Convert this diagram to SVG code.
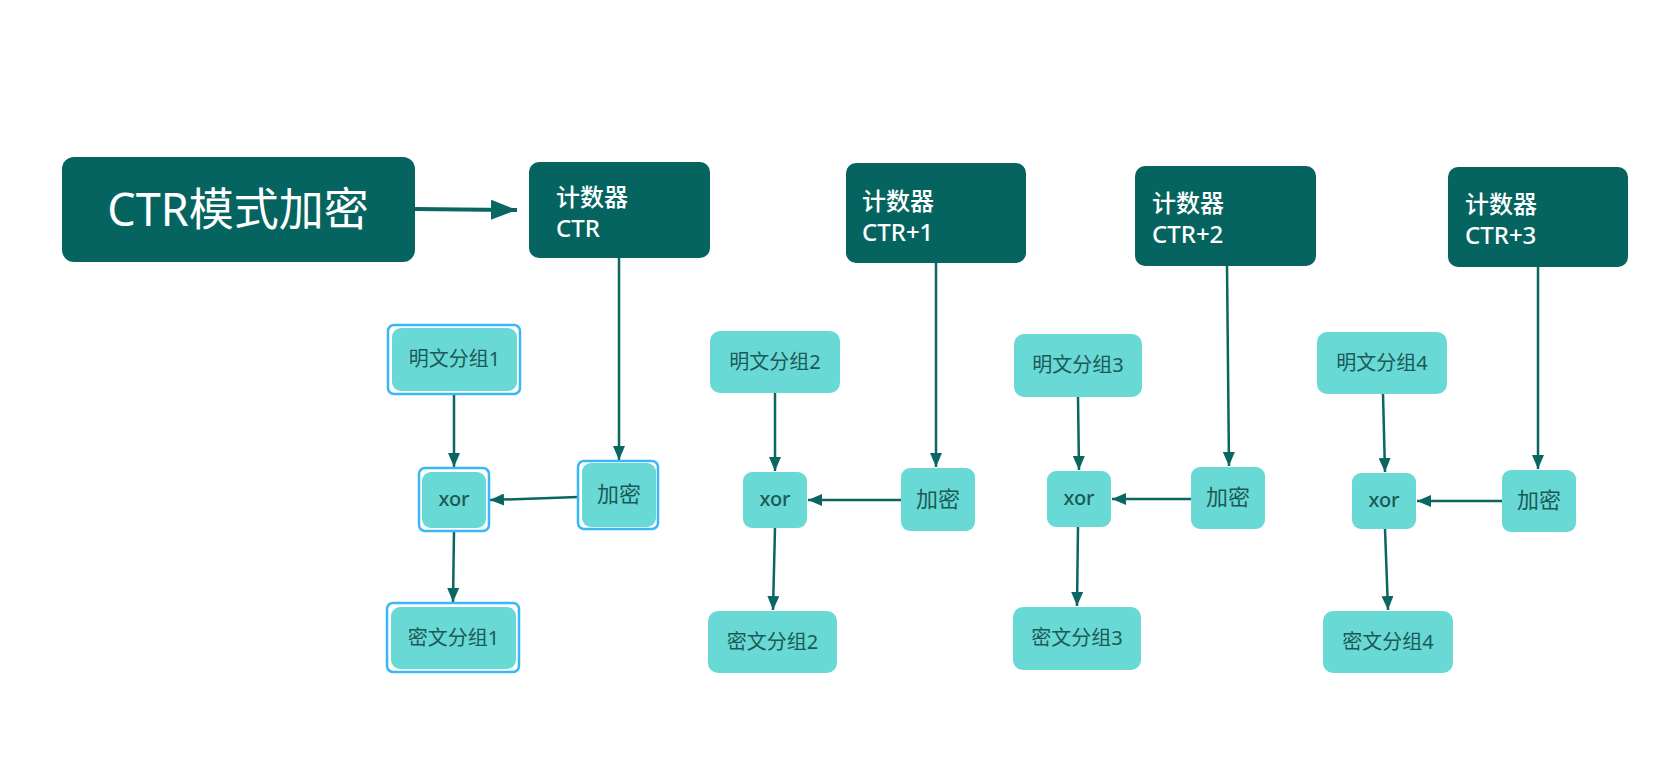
<svg xmlns="http://www.w3.org/2000/svg" width="1655" height="779" viewBox="0 0 1655 779">
<defs>
<style>
.dark{fill:#05645f;}
.light{fill:#68d9d5;}
.sel{fill:#ffffff;stroke:#3ab7f4;stroke-width:2.5;}
.t-title{font-family:"Noto Sans","Noto Sans CJK SC",sans-serif;font-size:45px;fill:#ffffff;}
.t-ctr{font-family:"Noto Sans","Noto Sans CJK SC",sans-serif;font-size:24px;font-weight:500;fill:#ffffff;}
.t-l{font-family:"Noto Sans","Noto Sans CJK SC",sans-serif;font-size:20px;fill:#1c5a57;text-anchor:middle;}
.t-x{font-family:"Noto Sans","Noto Sans CJK SC",sans-serif;font-size:20px;font-weight:500;fill:#1c5a57;text-anchor:middle;}
.c{stroke:#0b6661;stroke-width:2.5;fill:none;marker-end:url(#ah);}
.cb{stroke:#0b6661;stroke-width:4;fill:none;marker-end:url(#ahb);}
</style>
<marker id="ah" markerUnits="userSpaceOnUse" markerWidth="14" markerHeight="12" refX="14" refY="6" orient="auto">
<path d="M0,0 L14,6 L0,12 z" fill="#0b6661"/>
</marker>
<marker id="ahb" markerUnits="userSpaceOnUse" markerWidth="26" markerHeight="20" refX="26" refY="10" orient="auto">
<path d="M0,0 L26,10 L0,20 z" fill="#0b6661"/>
</marker>
</defs>
<rect width="1655" height="779" fill="#ffffff"/>

<g id="connectors">
<line class="cb" x1="415" y1="209" x2="517" y2="210"/>
<line class="c" x1="619" y1="258" x2="619" y2="460"/>
<line class="c" x1="454" y1="394" x2="454" y2="467"/>
<line class="c" x1="578" y1="497" x2="490" y2="500"/>
<line class="c" x1="454" y1="531" x2="453" y2="602"/>
<line class="c" x1="936" y1="263" x2="936" y2="467"/>
<line class="c" x1="775" y1="393" x2="775" y2="471"/>
<line class="c" x1="901" y1="500" x2="808" y2="500"/>
<line class="c" x1="775" y1="528" x2="773" y2="610"/>
<line class="c" x1="1227" y1="266" x2="1229" y2="466"/>
<line class="c" x1="1078" y1="397" x2="1079" y2="470"/>
<line class="c" x1="1191" y1="499" x2="1112" y2="499"/>
<line class="c" x1="1078" y1="527" x2="1077" y2="606"/>
<line class="c" x1="1538" y1="267" x2="1538" y2="469"/>
<line class="c" x1="1383" y1="394" x2="1385" y2="472"/>
<line class="c" x1="1502" y1="501" x2="1417" y2="501"/>
<line class="c" x1="1385" y1="529" x2="1388" y2="610"/>
</g>

<g id="title">
<rect class="dark" x="62" y="157" width="353" height="105" rx="12"/>
<text class="t-title" x="238" y="226" text-anchor="middle">CTR模式加密</text>
</g>

<g id="ctr0">
<rect class="dark" x="529" y="162" width="181" height="96" rx="10"/>
<text class="t-ctr" x="556" y="206">计数器</text>
<text class="t-ctr" x="556" y="237">CTR</text>
</g>
<g id="ctr1">
<rect class="dark" x="846" y="163" width="180" height="100" rx="10"/>
<text class="t-ctr" x="862" y="210">计数器</text>
<text class="t-ctr" x="862" y="241">CTR+1</text>
</g>
<g id="ctr2">
<rect class="dark" x="1135" y="166" width="181" height="100" rx="10"/>
<text class="t-ctr" x="1152" y="212">计数器</text>
<text class="t-ctr" x="1152" y="243">CTR+2</text>
</g>
<g id="ctr3">
<rect class="dark" x="1448" y="167" width="180" height="100" rx="10"/>
<text class="t-ctr" x="1465" y="213">计数器</text>
<text class="t-ctr" x="1465" y="244">CTR+3</text>
</g>

<g id="p1">
<rect class="sel" x="388" y="325" width="132" height="69" rx="6"/>
<rect class="light" x="392" y="328" width="125" height="63" rx="9"/>
<text class="t-l" x="454.5" y="366">明文分组1</text>
</g>
<g id="x1">
<rect class="sel" x="419" y="468" width="70" height="63" rx="6"/>
<rect class="light" x="422" y="472" width="64" height="56" rx="9"/>
<text class="t-x" x="454" y="506">xor</text>
</g>
<g id="e1">
<rect class="sel" x="578" y="461" width="80" height="68" rx="6"/>
<rect class="light" x="582" y="463" width="74" height="64" rx="9"/>
<text class="t-l" x="619" y="502" style="font-size:22px">加密</text>
</g>
<g id="c1">
<rect class="sel" x="387" y="603" width="132" height="69" rx="6"/>
<rect class="light" x="391" y="607" width="125" height="62" rx="9"/>
<text class="t-l" x="453.5" y="645">密文分组1</text>
</g>

<g id="p2">
<rect class="light" x="710" y="331" width="130" height="62" rx="10"/>
<text class="t-l" x="775" y="369">明文分组2</text>
</g>
<g id="x2">
<rect class="light" x="743" y="472" width="64" height="56" rx="9"/>
<text class="t-x" x="775" y="506">xor</text>
</g>
<g id="e2">
<rect class="light" x="901" y="468" width="74" height="63" rx="9"/>
<text class="t-l" x="938" y="507" style="font-size:22px">加密</text>
</g>
<g id="c2">
<rect class="light" x="708" y="611" width="129" height="62" rx="10"/>
<text class="t-l" x="772.5" y="649">密文分组2</text>
</g>

<g id="p3">
<rect class="light" x="1014" y="334" width="128" height="63" rx="10"/>
<text class="t-l" x="1078" y="372">明文分组3</text>
</g>
<g id="x3">
<rect class="light" x="1047" y="471" width="64" height="56" rx="9"/>
<text class="t-x" x="1079" y="505">xor</text>
</g>
<g id="e3">
<rect class="light" x="1191" y="467" width="74" height="62" rx="9"/>
<text class="t-l" x="1228" y="505" style="font-size:22px">加密</text>
</g>
<g id="c3">
<rect class="light" x="1013" y="607" width="128" height="63" rx="10"/>
<text class="t-l" x="1077" y="645">密文分组3</text>
</g>

<g id="p4">
<rect class="light" x="1317" y="332" width="130" height="62" rx="10"/>
<text class="t-l" x="1382" y="370">明文分组4</text>
</g>
<g id="x4">
<rect class="light" x="1352" y="473" width="64" height="56" rx="9"/>
<text class="t-x" x="1384" y="507">xor</text>
</g>
<g id="e4">
<rect class="light" x="1502" y="470" width="74" height="62" rx="9"/>
<text class="t-l" x="1539" y="508" style="font-size:22px">加密</text>
</g>
<g id="c4">
<rect class="light" x="1323" y="611" width="130" height="62" rx="10"/>
<text class="t-l" x="1388" y="649">密文分组4</text>
</g>
</svg>
